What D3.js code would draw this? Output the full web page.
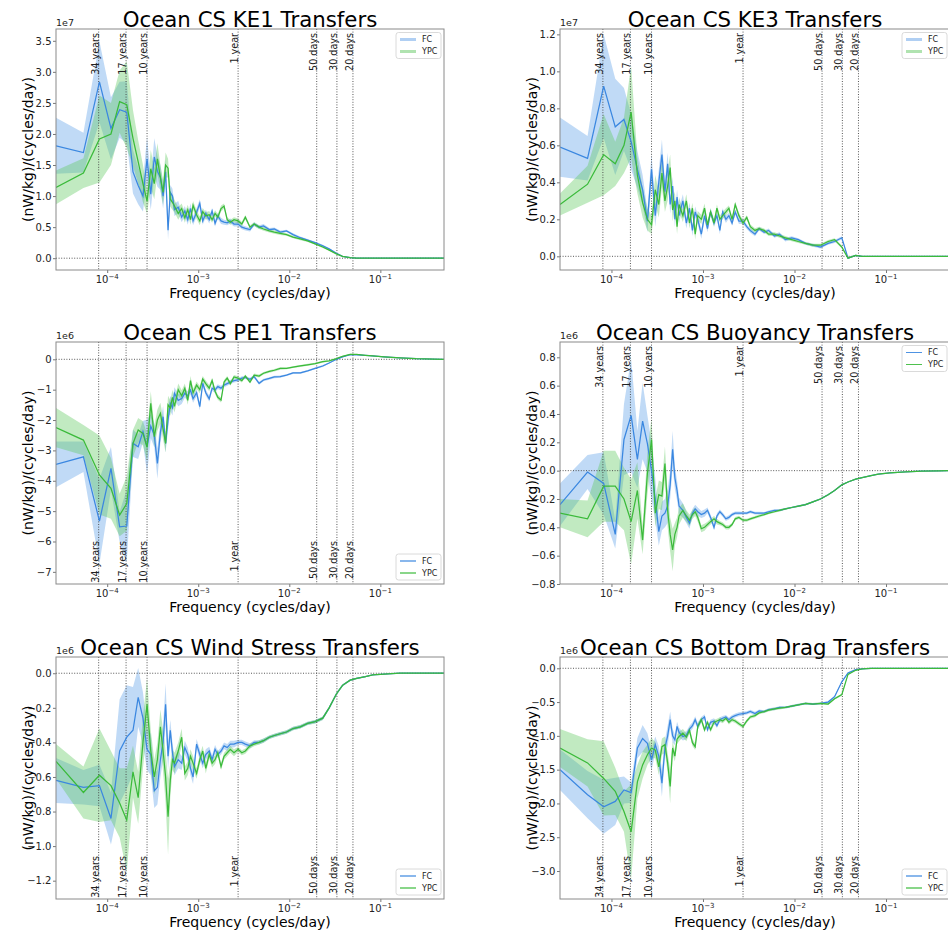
<!DOCTYPE html>
<html>
<head>
<meta charset="utf-8">
<script src="https://cdn.jsdelivr.net/npm/d3@7"></script>
<style>
  body { margin: 0; background: #fff; }
  svg { font-family: "DejaVu Sans", sans-serif; }
</style>
</head>
<body>
<svg id="fig" width="948" height="937"></svg>
<script>
// frequency grid (cycles/day)
const freq = [
  2.74e-5, 5.48e-5, 8.22e-5, 1.10e-4, 1.37e-4, 1.64e-4, 1.92e-4, 2.19e-4, 2.47e-4, 2.74e-4,
  3.01e-4, 3.29e-4, 3.56e-4, 3.84e-4, 4.11e-4, 4.38e-4, 4.66e-4, 4.93e-4, 5.21e-4, 5.48e-4,
  6.03e-4, 6.58e-4, 7.12e-4, 7.67e-4, 8.22e-4, 8.77e-4, 9.59e-4, 1.04e-3, 1.12e-3, 1.21e-3,
  1.32e-3, 1.42e-3, 1.53e-3, 1.64e-3, 1.78e-3, 1.92e-3, 2.08e-3, 2.25e-3, 2.47e-3, 2.74e-3,
  3.01e-3, 3.29e-3, 3.70e-3, 4.11e-3, 4.66e-3, 5.21e-3, 6.03e-3, 6.85e-3, 7.95e-3, 9.32e-3,
  1.10e-2, 1.32e-2, 1.59e-2, 1.92e-2, 2.33e-2, 2.74e-2, 3.29e-2, 3.84e-2, 4.66e-2, 5.48e-2,
  6.85e-2, 8.22e-2, 0.110, 0.164, 0.247, 0.384, 0.500
];

// reference periods (days) and their labels
const periodDays = [12410, 6205, 3650, 365, 50, 30, 20];
const periodLabels = ["34 years", "17 years", "10 years", "1 year", "50 days", "30 days", "20 days"];
const seriesNames = ["FC", "YPC"];
const xTicks = [1e-4, 1e-3, 1e-2, 1e-1];
const xTickExp = ["−4", "−3", "−2", "−1"];

// KE1 (x1e7)
const ke1FC = [
  1.81, 1.70, 2.84, 2.09, 2.39, 2.35, 1.39, 1.17, 1.00, 1.60,
  1.03, 1.63, 1.40, 1.30, 1.00, 1.39, 0.45, 1.06, 1.00, 0.78,
  0.82, 0.66, 0.76, 0.62, 0.80, 0.60, 0.74, 0.88, 0.60, 0.72,
  0.62, 0.76, 0.56, 0.68, 0.60, 0.58, 0.57, 0.60, 0.55, 0.55,
  0.50, 0.48, 0.46, 0.55, 0.50, 0.52, 0.46, 0.47, 0.42, 0.44,
  0.38, 0.33, 0.29, 0.25, 0.20, 0.15, 0.08, 0.03, 0.01, 0.00,
  0.00, 0.00, 0.00, 0.00, 0.00, 0.00, 0.00
];
const ke1FCerr = [
  0.45, 0.32, 0.65, 0.50, 0.45, 0.50, 0.35, 0.30, 0.25, 0.35,
  0.25, 0.30, 0.25, 0.20, 0.20, 0.20, 0.15, 0.12, 0.12, 0.10,
  0.10, 0.08, 0.08, 0.08, 0.08, 0.07, 0.07, 0.07, 0.06, 0.06,
  0.06, 0.05, 0.05, 0.05, 0.05, 0.04, 0.04, 0.04, 0.04, 0.04,
  0.035, 0.035, 0.03, 0.03, 0.03, 0.03, 0.025, 0.025, 0.025, 0.02,
  0.02, 0.02, 0.02, 0.015, 0.015, 0.01, 0.01, 0.005, 0.003, 0.002,
  0, 0, 0, 0, 0, 0, 0
];
const ke1YPC = [
  1.14, 1.37, 1.92, 2.00, 2.52, 2.47, 1.93, 1.55, 1.20, 0.92,
  1.44, 1.20, 1.60, 1.30, 1.06, 1.50, 1.45, 0.95, 0.90, 0.84,
  0.72, 0.80, 0.65, 0.78, 0.62, 0.85, 0.70, 0.60, 0.75, 0.68,
  0.70, 0.62, 0.72, 0.66, 0.80, 0.84, 0.62, 0.58, 0.62, 0.60,
  0.55, 0.66, 0.50, 0.55, 0.50, 0.47, 0.44, 0.42, 0.40, 0.38,
  0.34, 0.31, 0.28, 0.23, 0.18, 0.13, 0.07, 0.03, 0.01, 0.00,
  0.00, 0.00, 0.00, 0.00, 0.00, 0.00, 0.00
];
const ke1YPCerr = [
  0.27, 0.24, 0.70, 0.50, 0.50, 0.70, 0.45, 0.35, 0.30, 0.20,
  0.30, 0.25, 0.25, 0.20, 0.20, 0.20, 0.15, 0.12, 0.12, 0.10,
  0.10, 0.08, 0.08, 0.08, 0.08, 0.07, 0.07, 0.07, 0.06, 0.06,
  0.06, 0.05, 0.05, 0.05, 0.05, 0.04, 0.04, 0.04, 0.04, 0.04,
  0.035, 0.035, 0.03, 0.03, 0.03, 0.03, 0.025, 0.025, 0.025, 0.02,
  0.02, 0.02, 0.02, 0.015, 0.015, 0.01, 0.01, 0.005, 0.003, 0.002,
  0, 0, 0, 0, 0, 0, 0
];
const ke1Ticks = [0, 0.5, 1.0, 1.5, 2.0, 2.5, 3.0, 3.5];

// KE3 (x1e7)
const ke3FC = [
  0.59, 0.53, 0.92, 0.70, 0.74, 0.62, 0.47, 0.36, 0.19, 0.47,
  0.22, 0.40, 0.55, 0.35, 0.50, 0.28, 0.38, 0.20, 0.32, 0.22,
  0.30, 0.18, 0.26, 0.14, 0.24, 0.20, 0.12, 0.22, 0.15, 0.24,
  0.18, 0.22, 0.14, 0.24, 0.20, 0.22, 0.18, 0.24, 0.19, 0.19,
  0.16, 0.14, 0.12, 0.15, 0.13, 0.14, 0.11, 0.12, 0.09, 0.10,
  0.09, 0.07, 0.06, 0.05, 0.07, 0.08, 0.10, -0.01, 0.005, 0.00,
  0.00, 0.00, 0.00, 0.00, 0.00, 0.00, 0.00
];
const ke3FCerr = [
  0.16, 0.12, 0.28, 0.26, 0.17, 0.15, 0.10, 0.08, 0.06, 0.08,
  0.06, 0.07, 0.08, 0.06, 0.06, 0.05, 0.05, 0.04, 0.04, 0.04,
  0.035, 0.03, 0.03, 0.03, 0.03, 0.025, 0.025, 0.025, 0.02, 0.02,
  0.02, 0.02, 0.02, 0.02, 0.02, 0.015, 0.015, 0.015, 0.015, 0.015,
  0.012, 0.012, 0.012, 0.01, 0.01, 0.01, 0.01, 0.01, 0.01, 0.008,
  0.008, 0.008, 0.008, 0.008, 0.008, 0.008, 0.008, 0.005, 0.003, 0.002,
  0, 0, 0, 0, 0, 0, 0
];
const ke3YPC = [
  0.28, 0.39, 0.55, 0.50, 0.60, 0.78, 0.44, 0.29, 0.20, 0.17,
  0.36, 0.28, 0.45, 0.30, 0.38, 0.48, 0.25, 0.30, 0.16, 0.28,
  0.22, 0.30, 0.18, 0.26, 0.12, 0.22, 0.20, 0.26, 0.17, 0.24,
  0.18, 0.26, 0.20, 0.22, 0.24, 0.26, 0.20, 0.28, 0.22, 0.18,
  0.21, 0.16, 0.14, 0.15, 0.14, 0.12, 0.12, 0.11, 0.10, 0.09,
  0.08, 0.07, 0.06, 0.06, 0.08, 0.09, 0.05, -0.01, 0.005, 0.00,
  0.00, 0.00, 0.00, 0.00, 0.00, 0.00, 0.00
];
const ke3YPCerr = [
  0.06, 0.10, 0.22, 0.12, 0.15, 0.25, 0.10, 0.08, 0.06, 0.05,
  0.08, 0.07, 0.08, 0.06, 0.08, 0.07, 0.06, 0.05, 0.04, 0.04,
  0.035, 0.035, 0.03, 0.03, 0.03, 0.025, 0.025, 0.025, 0.02, 0.02,
  0.02, 0.02, 0.02, 0.02, 0.02, 0.015, 0.015, 0.015, 0.015, 0.015,
  0.012, 0.012, 0.012, 0.01, 0.01, 0.01, 0.01, 0.01, 0.01, 0.008,
  0.008, 0.008, 0.008, 0.008, 0.008, 0.008, 0.008, 0.005, 0.003, 0.002,
  0, 0, 0, 0, 0, 0, 0
];
const ke3Ticks = [0, 0.2, 0.4, 0.6, 0.8, 1.0, 1.2];

// PE1 (x1e6)
const pe1FC = [
  -3.46, -3.21, -5.33, -3.59, -5.52, -5.49, -2.77, -2.88, -2.38, -2.88,
  -2.20, -2.50, -3.43, -2.40, -1.89, -2.77, -2.00, -1.45, -1.60, -1.12,
  -1.35, -1.29, -1.12, -1.20, -1.01, -1.30, -1.10, -1.56, -0.79, -1.10,
  -1.30, -0.95, -1.01, -0.90, -0.95, -0.85, -0.80, -0.75, -0.70, -0.68,
  -0.62, -0.60, -0.66, -0.57, -0.79, -0.68, -0.63, -0.58, -0.57, -0.52,
  -0.45, -0.45, -0.38, -0.30, -0.22, -0.12, 0.00, 0.08, 0.15, 0.15,
  0.13, 0.11, 0.08, 0.05, 0.02, 0.01, 0.00
];
const pe1FCerr = [
  0.75, 0.50, 1.40, 0.70, 0.50, 1.20, 0.45, 0.40, 0.35, 0.90,
  0.40, 0.40, 0.50, 0.35, 0.35, 0.30, 0.30, 0.25, 0.25, 0.20,
  0.20, 0.18, 0.15, 0.15, 0.15, 0.13, 0.12, 0.12, 0.10, 0.10,
  0.10, 0.09, 0.09, 0.08, 0.08, 0.07, 0.07, 0.07, 0.06, 0.06,
  0.06, 0.05, 0.05, 0.05, 0.05, 0.04, 0.04, 0.04, 0.04, 0.03,
  0.03, 0.03, 0.03, 0.03, 0.03, 0.02, 0.02, 0.02, 0.02, 0.01,
  0.01, 0.01, 0.01, 0, 0, 0, 0
];
const pe1YPC = [
  -2.25, -2.66, -3.81, -4.25, -5.13, -4.75, -2.77, -2.33, -2.44, -2.90,
  -1.45, -2.55, -2.00, -1.78, -2.30, -2.77, -1.50, -1.60, -1.25, -1.55,
  -1.00, -1.20, -0.95, -1.35, -0.70, -1.10, -0.85, -1.00, -0.65, -0.80,
  -0.95, -0.70, -1.05, -1.25, -1.34, -0.75, -0.62, -0.80, -0.58, -0.62,
  -0.70, -0.55, -0.75, -0.52, -0.55, -0.46, -0.40, -0.36, -0.30, -0.30,
  -0.26, -0.22, -0.18, -0.14, -0.08, -0.05, 0.02, 0.10, 0.16, 0.16,
  0.13, 0.11, 0.08, 0.05, 0.02, 0.01, 0.00
];
const pe1YPCerr = [
  0.65, 0.50, 1.30, 1.00, 0.70, 0.90, 0.45, 0.40, 0.40, 0.45,
  0.40, 0.35, 0.35, 0.35, 0.35, 0.30, 0.30, 0.25, 0.25, 0.20,
  0.20, 0.18, 0.15, 0.15, 0.15, 0.13, 0.12, 0.12, 0.10, 0.10,
  0.10, 0.09, 0.09, 0.08, 0.08, 0.07, 0.07, 0.07, 0.06, 0.06,
  0.06, 0.05, 0.05, 0.05, 0.05, 0.04, 0.04, 0.04, 0.04, 0.03,
  0.03, 0.03, 0.03, 0.03, 0.03, 0.02, 0.02, 0.02, 0.02, 0.01,
  0.01, 0.01, 0.01, 0, 0, 0, 0
];
const pe1Ticks = [-7, -6, -5, -4, -3, -2, -1, 0];

// Buoyancy (x1e6)
const buoyFC = [
  -0.24, -0.01, -0.09, -0.45, 0.22, 0.39, 0.08, 0.35, 0.19, 0.00,
  -0.20, -0.43, -0.32, -0.30, -0.25, -0.10, 0.15, -0.05, -0.14, -0.25,
  -0.28, -0.33, -0.37, -0.30, -0.27, -0.29, -0.31, -0.30, -0.28, -0.33,
  -0.40, -0.32, -0.29, -0.31, -0.34, -0.33, -0.31, -0.30, -0.30, -0.30,
  -0.30, -0.29, -0.30, -0.30, -0.30, -0.29, -0.28, -0.28, -0.27, -0.26,
  -0.25, -0.24, -0.22, -0.20, -0.17, -0.14, -0.10, -0.08, -0.06, -0.05,
  -0.035, -0.025, -0.015, -0.008, -0.004, -0.002, 0.00
];
const buoyFCerr = [
  0.15, 0.12, 0.22, 0.10, 0.25, 0.40, 0.20, 0.27, 0.20, 0.20,
  0.15, 0.10, 0.10, 0.10, 0.12, 0.10, 0.13, 0.08, 0.07, 0.06,
  0.05, 0.04, 0.04, 0.03, 0.03, 0.03, 0.025, 0.025, 0.02, 0.02,
  0.02, 0.02, 0.015, 0.015, 0.015, 0.015, 0.012, 0.012, 0.012, 0.01,
  0.01, 0.01, 0.01, 0.01, 0.008, 0.008, 0.008, 0.008, 0.006, 0.006,
  0.006, 0.006, 0.005, 0.005, 0.005, 0.004, 0.004, 0.003, 0.003, 0.002,
  0.002, 0.001, 0.001, 0, 0, 0, 0
];
const buoyYPC = [
  -0.30, -0.34, -0.11, -0.11, -0.20, -0.36, -0.14, -0.49, -0.02, 0.22,
  -0.30, -0.17, -0.18, 0.05, -0.28, -0.45, -0.56, -0.45, -0.40, -0.32,
  -0.28, -0.32, -0.35, -0.31, -0.29, -0.33, -0.41, -0.40, -0.38, -0.36,
  -0.34, -0.36, -0.37, -0.38, -0.40, -0.40, -0.38, -0.34, -0.33, -0.35,
  -0.35, -0.34, -0.33, -0.32, -0.31, -0.30, -0.29, -0.28, -0.27, -0.26,
  -0.25, -0.24, -0.22, -0.20, -0.17, -0.14, -0.10, -0.08, -0.06, -0.05,
  -0.035, -0.025, -0.015, -0.008, -0.004, -0.002, 0.00
];
const buoyYPCerr = [
  0.10, 0.13, 0.25, 0.25, 0.22, 0.30, 0.20, 0.10, 0.15, 0.15,
  0.10, 0.10, 0.10, 0.12, 0.12, 0.12, 0.15, 0.08, 0.07, 0.06,
  0.05, 0.04, 0.04, 0.03, 0.03, 0.03, 0.025, 0.025, 0.02, 0.02,
  0.02, 0.02, 0.015, 0.015, 0.015, 0.015, 0.012, 0.012, 0.012, 0.01,
  0.01, 0.01, 0.01, 0.01, 0.008, 0.008, 0.008, 0.008, 0.006, 0.006,
  0.006, 0.006, 0.005, 0.005, 0.005, 0.004, 0.004, 0.003, 0.003, 0.002,
  0.002, 0.001, 0.001, 0, 0, 0, 0
];
const buoyTicks = [-0.8, -0.6, -0.4, -0.2, 0, 0.2, 0.4, 0.6, 0.8];

// Wind stress (x1e6)
const windFC = [
  -0.62, -0.66, -0.65, -0.84, -0.45, -0.37, -0.33, -0.14, -0.26, -0.44,
  -0.47, -0.68, -0.66, -0.50, -0.40, -0.18, -0.48, -0.33, -0.46, -0.54,
  -0.50, -0.52, -0.43, -0.47, -0.55, -0.60, -0.41, -0.47, -0.52, -0.47,
  -0.45, -0.50, -0.44, -0.47, -0.45, -0.42, -0.43, -0.41, -0.41, -0.40,
  -0.40, -0.41, -0.42, -0.40, -0.40, -0.39, -0.37, -0.36, -0.35, -0.34,
  -0.32, -0.31, -0.29, -0.28, -0.26, -0.20, -0.12, -0.07, -0.04, -0.03,
  -0.02, -0.01, -0.005, 0.00, 0.00, 0.00, 0.00
];
const windFCerr = [
  0.13, 0.10, 0.12, 0.15, 0.30, 0.30, 0.25, 0.17, 0.15, 0.12,
  0.12, 0.10, 0.10, 0.10, 0.10, 0.12, 0.08, 0.06, 0.06, 0.05,
  0.05, 0.04, 0.04, 0.04, 0.04, 0.04, 0.03, 0.03, 0.03, 0.03,
  0.025, 0.025, 0.025, 0.02, 0.02, 0.02, 0.02, 0.02, 0.02, 0.015,
  0.015, 0.015, 0.015, 0.012, 0.012, 0.012, 0.01, 0.01, 0.01, 0.01,
  0.01, 0.01, 0.01, 0.01, 0.01, 0.008, 0.008, 0.006, 0.005, 0.004,
  0.003, 0.002, 0.001, 0, 0, 0, 0
];
const windYPC = [
  -0.51, -0.69, -0.59, -0.65, -0.75, -0.85, -0.57, -0.72, -0.40, -0.18,
  -0.45, -0.60, -0.50, -0.31, -0.45, -0.60, -0.83, -0.62, -0.50, -0.52,
  -0.45, -0.37, -0.58, -0.55, -0.48, -0.52, -0.58, -0.50, -0.45, -0.55,
  -0.47, -0.52, -0.50, -0.46, -0.54, -0.48, -0.46, -0.44, -0.46, -0.44,
  -0.46, -0.45, -0.42, -0.41, -0.40, -0.39, -0.37, -0.36, -0.35, -0.34,
  -0.32, -0.31, -0.29, -0.28, -0.26, -0.20, -0.12, -0.07, -0.04, -0.03,
  -0.02, -0.01, -0.005, 0.00, 0.00, 0.00, 0.00
];
const windYPCerr = [
  0.10, 0.15, 0.27, 0.20, 0.20, 0.30, 0.15, 0.15, 0.15, 0.15,
  0.12, 0.10, 0.10, 0.10, 0.12, 0.15, 0.22, 0.10, 0.06, 0.06,
  0.05, 0.05, 0.04, 0.04, 0.04, 0.04, 0.03, 0.03, 0.03, 0.03,
  0.025, 0.025, 0.025, 0.02, 0.02, 0.02, 0.02, 0.02, 0.02, 0.015,
  0.015, 0.015, 0.015, 0.012, 0.012, 0.012, 0.01, 0.01, 0.01, 0.01,
  0.01, 0.01, 0.01, 0.01, 0.01, 0.008, 0.008, 0.006, 0.005, 0.004,
  0.003, 0.002, 0.001, 0, 0, 0, 0
];
const windTicks = [-1.2, -1.0, -0.8, -0.6, -0.4, -0.2, 0];

// Bottom drag (x1e6)
const dragFC = [
  -1.50, -1.87, -2.05, -1.97, -1.80, -1.84, -1.18, -1.04, -1.11, -1.36,
  -1.13, -1.30, -1.70, -1.18, -1.00, -0.76, -1.00, -1.06, -0.86, -0.95,
  -1.01, -0.99, -0.90, -0.85, -0.76, -0.86, -0.76, -0.72, -0.91, -0.80,
  -0.78, -0.85, -0.76, -0.74, -0.72, -0.76, -0.72, -0.70, -0.68, -0.67,
  -0.66, -0.64, -0.67, -0.63, -0.64, -0.61, -0.60, -0.58, -0.58, -0.56,
  -0.54, -0.52, -0.53, -0.52, -0.50, -0.42, -0.20, -0.07, -0.02, -0.01,
  0.00, 0.00, 0.00, 0.00, 0.00, 0.00, 0.00
];
const dragFCerr = [
  0.30, 0.35, 0.40, 0.35, 0.20, 0.15, 0.15, 0.20, 0.15, 0.15,
  0.12, 0.15, 0.20, 0.12, 0.15, 0.12, 0.10, 0.08, 0.07, 0.07,
  0.06, 0.06, 0.05, 0.05, 0.05, 0.05, 0.04, 0.04, 0.04, 0.04,
  0.04, 0.035, 0.035, 0.035, 0.03, 0.03, 0.03, 0.03, 0.03, 0.03,
  0.025, 0.025, 0.025, 0.02, 0.02, 0.02, 0.02, 0.02, 0.015, 0.015,
  0.015, 0.015, 0.015, 0.015, 0.015, 0.015, 0.015, 0.01, 0.005, 0.003,
  0.002, 0.001, 0, 0, 0, 0, 0
];
const dragYPC = [
  -1.18, -1.40, -1.63, -1.82, -2.12, -2.42, -1.68, -1.43, -1.28, -1.18,
  -1.21, -1.46, -1.16, -1.13, -1.40, -1.75, -1.18, -1.30, -1.05, -1.01,
  -0.96, -1.02, -0.92, -1.10, -1.16, -0.86, -0.76, -0.91, -0.80, -0.91,
  -0.80, -0.78, -0.76, -0.78, -0.74, -0.80, -0.76, -0.78, -0.82, -0.86,
  -0.78, -0.72, -0.70, -0.66, -0.64, -0.62, -0.60, -0.59, -0.58, -0.56,
  -0.54, -0.52, -0.53, -0.52, -0.53, -0.45, -0.39, -0.09, -0.03, -0.01,
  0.00, 0.00, 0.00, 0.00, 0.00, 0.00, 0.00
];
const dragYPCerr = [
  0.28, 0.35, 0.55, 0.35, 0.30, 0.70, 0.25, 0.20, 0.15, 0.15,
  0.12, 0.12, 0.12, 0.12, 0.15, 0.25, 0.10, 0.08, 0.07, 0.07,
  0.06, 0.06, 0.05, 0.05, 0.05, 0.05, 0.04, 0.04, 0.04, 0.04,
  0.04, 0.035, 0.035, 0.035, 0.03, 0.03, 0.03, 0.03, 0.03, 0.03,
  0.025, 0.025, 0.025, 0.02, 0.02, 0.02, 0.02, 0.02, 0.015, 0.015,
  0.015, 0.015, 0.015, 0.015, 0.015, 0.015, 0.015, 0.01, 0.005, 0.003,
  0.002, 0.001, 0, 0, 0, 0, 0
];
const dragTicks = [-3.0, -2.5, -2.0, -1.5, -1.0, -0.5, 0];

const colors = {
  FC:  { line: "#3a87e0", fill: "#5a9de8" },
  YPC: { line: "#3aba3a", fill: "#5cc85c" }
};

const panels = [
  { title: "Ocean CS KE1 Transfers", exp: "1e7", col: 0, row: 0, ydom: [-0.19, 3.69], ticks: ke1Ticks, fmt: ".1f",
    series: [[ke1FC, ke1FCerr], [ke1YPC, ke1YPCerr]], labelsAt: "top", legendAt: "top", legendW: 3, legendA: 0.4 },
  { title: "Ocean CS KE3 Transfers", exp: "1e7", col: 1, row: 0, ydom: [-0.074, 1.229], ticks: ke3Ticks, fmt: ".1f",
    series: [[ke3FC, ke3FCerr], [ke3YPC, ke3YPCerr]], labelsAt: "top", legendAt: "top", legendW: 3, legendA: 0.4 },
  { title: "Ocean CS PE1 Transfers", exp: "1e6", col: 0, row: 1, ydom: [-7.40, 0.57], ticks: pe1Ticks, fmt: "d",
    series: [[pe1FC, pe1FCerr], [pe1YPC, pe1YPCerr]], labelsAt: "bottom", legendAt: "bottom", legendW: 1.2, legendA: 1 },
  { title: "Ocean CS Buoyancy Transfers", exp: "1e6", col: 1, row: 1, ydom: [-0.80, 0.908], ticks: buoyTicks, fmt: ".1f",
    series: [[buoyFC, buoyFCerr], [buoyYPC, buoyYPCerr]], labelsAt: "top", legendAt: "top", legendW: 0.9, legendA: 1 },
  { title: "Ocean CS Wind Stress Transfers", exp: "1e6", col: 0, row: 2, ydom: [-1.306, 0.094], ticks: windTicks, fmt: ".1f",
    series: [[windFC, windFCerr], [windYPC, windYPCerr]], labelsAt: "bottom", legendAt: "bottom", legendW: 1.2, legendA: 1 },
  { title: "Ocean CS Bottom Drag Transfers", exp: "1e6", col: 1, row: 2, ydom: [-3.414, 0.167], ticks: dragTicks, fmt: ".1f",
    series: [[dragFC, dragFCerr], [dragYPC, dragYPCerr]], labelsAt: "bottom", legendAt: "bottom", legendW: 1.2, legendA: 1 }
];

const colX = [56, 560], colW = [388, 390];
const rowY = [29, 342, 657], rowH = [241, 242, 242];

const svg = d3.select("#fig");

panels.forEach((p, pi) => {
  const w = colW[p.col], h = rowH[p.row];
  const g = svg.append("g").attr("transform", `translate(${colX[p.col]},${rowY[p.row]})`);

  const x = d3.scaleLog().domain([freq[0], 0.5]).range([0, w]);
  const y = d3.scaleLinear().domain(p.ydom).range([h, 0]);

  g.append("clipPath").attr("id", "clip" + pi)
    .append("rect").attr("width", w).attr("height", h);
  const plot = g.append("g").attr("clip-path", `url(#clip${pi})`);

  // bands
  p.series.forEach((s, si) => {
    const [mean, err] = s;
    const c = colors[seriesNames[si]];
    const area = d3.area()
      .x((d, i) => x(freq[i]))
      .y0((d, i) => y(mean[i] - err[i]))
      .y1((d, i) => y(mean[i] + err[i]));
    plot.append("path").datum(mean)
      .attr("d", area)
      .attr("fill", c.fill)
      .attr("fill-opacity", 0.38);
  });

  // reference lines
  periodDays.forEach(d => {
    const xv = x(1 / d);
    plot.append("line")
      .attr("x1", xv).attr("x2", xv).attr("y1", 0).attr("y2", h)
      .attr("stroke", "#444").attr("stroke-width", 0.9)
      .attr("stroke-dasharray", "1,1.6");
  });
  plot.append("line")
    .attr("x1", 0).attr("x2", w).attr("y1", y(0)).attr("y2", y(0))
    .attr("stroke", "#444").attr("stroke-width", 0.9)
    .attr("stroke-dasharray", "1,1.6");

  // lines
  p.series.forEach((s, si) => {
    const mean = s[0];
    const line = d3.line().x((d, i) => x(freq[i])).y(d => y(d));
    plot.append("path").datum(mean)
      .attr("d", line)
      .attr("fill", "none")
      .attr("stroke", colors[seriesNames[si]].line)
      .attr("stroke-width", 1.25);
  });

  // period labels
  periodDays.forEach((d, i) => {
    const xv = x(1 / d);
    const yTop = p.labelsAt === "top" ? 4 : h - 43;
    g.append("text")
      .attr("transform", `translate(${xv},${yTop}) rotate(-90)`)
      .attr("text-anchor", "end")
      .attr("font-size", 9.6)
      .attr("fill", "#222")
      .text(periodLabels[i]);
  });

  // axes
  const yAxis = g.append("g")
    .call(d3.axisLeft(y).tickValues(p.ticks).tickSize(3).tickPadding(1.5)
      .tickFormat(d3.format(p.fmt)));
  yAxis.select(".domain").remove();
  yAxis.selectAll(".tick line").attr("stroke", "#777");
  yAxis.selectAll(".tick text").attr("font-size", 10).attr("fill", "#222")
    .attr("font-family", "DejaVu Sans");

  const xAxis = g.append("g").attr("transform", `translate(0,${h})`)
    .call(d3.axisBottom(x).tickValues(xTicks).tickSize(3).tickFormat(() => ""));
  xAxis.select(".domain").remove();
  xAxis.selectAll(".tick line").attr("stroke", "#777");
  xTicks.forEach((t, i) => {
    const tx = g.append("text")
      .attr("x", x(t)).attr("y", h + 13)
      .attr("text-anchor", "middle")
      .attr("font-size", 10).attr("fill", "#222");
    tx.append("tspan").text("10");
    tx.append("tspan").attr("dy", -4.5).attr("font-size", 7).text(xTickExp[i]);
  });

  // frame
  g.append("rect").attr("width", w).attr("height", h)
    .attr("fill", "none").attr("stroke", "#8a8a8a").attr("stroke-width", 1);

  // offset text, title, axis labels
  g.append("text").attr("x", 0).attr("y", -3)
    .attr("font-size", 9.5).attr("fill", "#222").text(p.exp);
  g.append("text").attr("x", w / 2).attr("y", -2.5)
    .attr("text-anchor", "middle").attr("font-size", 21.3).attr("fill", "#000")
    .text(p.title);
  g.append("text").attr("x", w / 2).attr("y", h + 28)
    .attr("text-anchor", "middle").attr("font-size", 14).attr("fill", "#000")
    .text("Frequency (cycles/day)");
  g.append("text")
    .attr("transform", `translate(-23,${h / 2}) rotate(-90)`)
    .attr("text-anchor", "middle").attr("font-size", 14).attr("fill", "#000")
    .text("(nW/kg)/(cycles/day)");

  // legend
  const ly = p.legendAt === "top" ? 3.5 : h - 30;
  const lg = g.append("g").attr("transform", `translate(${w - 48},${ly})`);
  lg.append("rect").attr("width", 45).attr("height", 26).attr("rx", 2.5)
    .attr("fill", "#fff").attr("fill-opacity", 0.85)
    .attr("stroke", "#d0d0d0").attr("stroke-width", 0.8);
  seriesNames.forEach((n, i) => {
    const yy = 7 + 12 * i;
    lg.append("line").attr("x1", 4).attr("x2", 20).attr("y1", yy).attr("y2", yy)
      .attr("stroke", colors[n].line).attr("stroke-width", p.legendW)
      .attr("stroke-opacity", p.legendA);
    lg.append("text").attr("x", 26).attr("y", yy).attr("dy", "0.35em")
      .attr("font-size", 8).attr("fill", "#222").text(n);
  });
});
</script>
</body>
</html>
